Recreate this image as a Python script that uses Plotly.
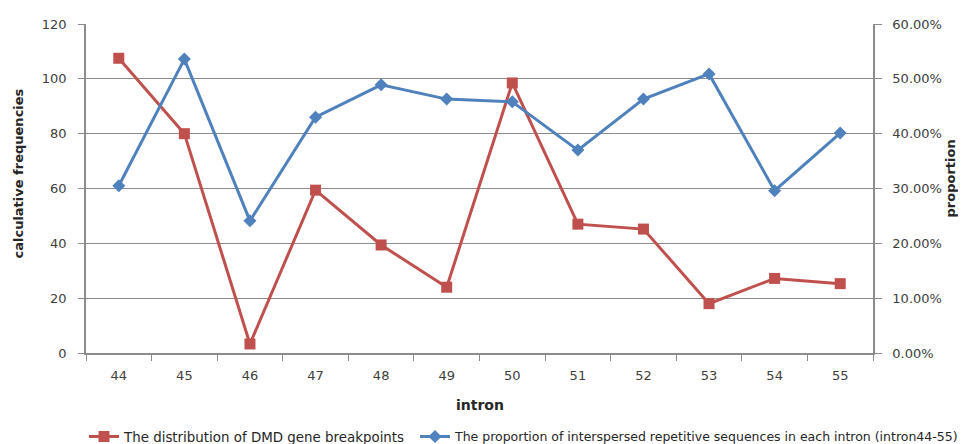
import plotly.graph_objects as go

introns = ["44", "45", "46", "47", "48", "49", "50", "51", "52", "53", "54", "55"]
breakpoints = [107.5, 80, 3.3, 59.4, 39.4, 24, 98.5, 47, 45.2, 18, 27.2, 25.3]
proportion = [0.305, 0.536, 0.241, 0.43, 0.489, 0.463, 0.458, 0.37, 0.463, 0.509, 0.296, 0.401]

red = "#C0504D"
blue = "#4F81BD"
grid = "#8C8C8C"
FONT = "DejaVu Sans, Verdana, sans-serif"
tickfont = dict(family=FONT, size=13, color="#404040")

FIG_W, FIG_H, BODY = 958, 436, 8


def cx(page_x):
    return (page_x - BODY) / FIG_W


fig = go.Figure()
fig.add_trace(go.Scatter(
    x=introns, y=breakpoints, name="The distribution of DMD gene breakpoints",
    mode="lines+markers", line=dict(color=red, width=3),
    marker=dict(symbol="square", size=11, color=red), yaxis="y", legend="legend"))
fig.add_trace(go.Scatter(
    x=introns, y=proportion,
    name="The proportion of interspersed repetitive sequences in each intron (intron44-55)",
    mode="lines+markers", line=dict(color=blue, width=3),
    marker=dict(symbol="diamond", size=10, color=blue), yaxis="y2", legend="legend2"))

legend_common = dict(orientation="h", xref="container", yref="paper", xanchor="left",
                     y=-0.255, yanchor="middle", itemwidth=30, tracegroupgap=0,
                     bgcolor="rgba(0,0,0,0)")

# page body has an 8px margin, so the figure is shifted by 8px; compensate
fig.update_layout(
    width=FIG_W, height=FIG_H,
    margin=dict(l=78, r=93, t=16, b=91, autoexpand=False),
    paper_bgcolor="white", plot_bgcolor="white",
    showlegend=True,
    legend=dict(x=cx(84), font=dict(family=FONT, size=13.4, color="#262626"), **legend_common),
    legend2=dict(x=cx(415), font=dict(family=FONT, size=12.5, color="#262626"), **legend_common),
    xaxis=dict(type="category", range=[-0.5, 11.5], tickson="boundaries",
               ticks="outside", ticklen=6, tickcolor=grid, showgrid=False,
               showline=True, linecolor=grid, linewidth=1.5, tickfont=tickfont,
               ticklabelstandoff=10, zeroline=False, automargin=False),
    yaxis=dict(range=[0, 120], dtick=20, ticks="outside", ticklen=6, tickcolor=grid,
               showgrid=True, gridcolor=grid, gridwidth=1, showline=True, linecolor=grid,
               linewidth=1.5, tickfont=tickfont, zeroline=False, ticklabelstandoff=9,
               automargin=False),
    yaxis2=dict(range=[0, 0.6], dtick=0.1, tickformat=".2%", overlaying="y", side="right",
                ticks="outside", ticklen=7, tickcolor=grid, showgrid=False, showline=True,
                linecolor=grid, linewidth=1.5, tickfont=tickfont, zeroline=False,
                ticklabelstandoff=8, automargin=False),
    annotations=[
        dict(text="<b>calculative frequencies</b>", xref="paper", yref="paper", x=0, y=0.5,
             xshift=-68, yshift=15, textangle=-90, showarrow=False, xanchor="center",
             yanchor="middle", font=dict(family=FONT, size=13, color="#262626")),
        dict(text="<b>proportion</b>", xref="paper", yref="paper", x=1, y=0.5,
             xshift=77, yshift=10, textangle=-90, showarrow=False, xanchor="center",
             yanchor="middle", font=dict(family=FONT, size=13, color="#262626")),
        dict(text="<b>intron</b>", xref="paper", yref="paper", x=0.5, y=0, yshift=-52,
             showarrow=False, xanchor="center", yanchor="middle",
             font=dict(family=FONT, size=14, color="#262626")),
    ],
)

fig.write_html("out.html")
